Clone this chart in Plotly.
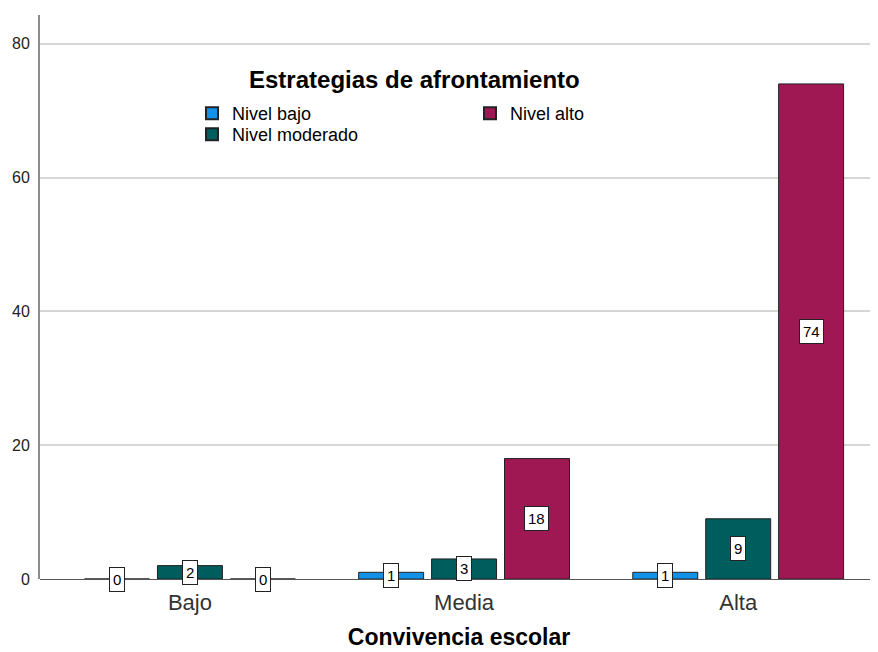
import plotly.graph_objects as go

categories = ["Bajo", "Media", "Alta"]
series_names = ["Nivel bajo", "Nivel moderado", "Nivel alto"]
nivel_bajo = [0, 1, 1]
nivel_moderado = [2, 3, 9]
nivel_alto = [0, 18, 74]
y_ticks = [0, 20, 40, 60, 80]

values = [nivel_bajo, nivel_moderado, nivel_alto]
colors = ["#1192e8", "#005d5d", "#9f1853"]
legend_ids = ["legend", "legend3", "legend2"]
offsets = [-0.266, 0.0, 0.266]
bar_w = 0.237
FONT = "Liberation Sans, Arial, sans-serif"

# plot area on screen: x 40..878, y 15..579
def px(x):
    return (x - 40) / 838

def py(y):
    return (579 - y) / 564

fig = go.Figure()
annotations = []
for name, vals, col, off, lg in zip(series_names, values, colors, offsets, legend_ids):
    xs = [i + off for i in range(len(categories))]
    fig.add_trace(go.Bar(
        x=xs, y=vals, width=bar_w, name=name, legend=lg,
        marker=dict(color=col, line=dict(color="#222222", width=1)),
        hoverinfo="y",
    ))
    for x, v in zip(xs, vals):
        annotations.append(dict(
            x=x, y=v / 2, xref="x", yref="y", text=str(v), showarrow=False,
            font=dict(family=FONT, size=15, color="#000"),
            bgcolor="white", bordercolor="#222", borderwidth=1, borderpad=3,
        ))

annotations.append(dict(
    x=px(414), y=py(79), xref="paper", yref="paper", xanchor="center", yanchor="middle",
    text="<b>Estrategias de afrontamiento</b>",
    showarrow=False, font=dict(family=FONT, size=24, color="#000"),
))

legend_common = dict(
    orientation="v", xanchor="left", yanchor="top",
    font=dict(family=FONT, size=18, color="#000"),
    bgcolor="rgba(0,0,0,0)", itemsizing="constant",
)

fig.update_layout(
    width=878, height=652,
    margin=dict(l=32, r=8, t=7, b=81),
    plot_bgcolor="white", paper_bgcolor="white",
    barmode="overlay",
    showlegend=True,
    legend=dict(x=px(192), y=py(95), **legend_common),
    legend2=dict(x=px(470), y=py(95), **legend_common),
    legend3=dict(x=px(192), y=py(116), **legend_common),
    xaxis=dict(
        range=[-0.547, 2.51], tickvals=[0, 1, 2], ticktext=categories,
        showgrid=False, zeroline=False, showline=False,
        ticks="outside", ticklen=4, tickcolor="rgba(0,0,0,0)",
        automargin=False,
        tickfont=dict(family=FONT, size=22, color="#333"),
        title=dict(text="<b>Convivencia escolar</b>", standoff=14,
                   font=dict(family=FONT, size=23, color="#000")),
    ),
    yaxis=dict(
        range=[0, 84.3], tickvals=y_ticks, showgrid=True, gridcolor="#d6d6d6", gridwidth=2,
        zeroline=True, zerolinecolor="#555555", zerolinewidth=1,
        showline=True, linecolor="#8c8c8c", linewidth=2,
        ticks="outside", ticklen=5, tickcolor="rgba(0,0,0,0)",
        automargin=False,
        tickfont=dict(family=FONT, size=16, color="#222"),
    ),
    annotations=annotations,
)
fig.write_html("out.html")
